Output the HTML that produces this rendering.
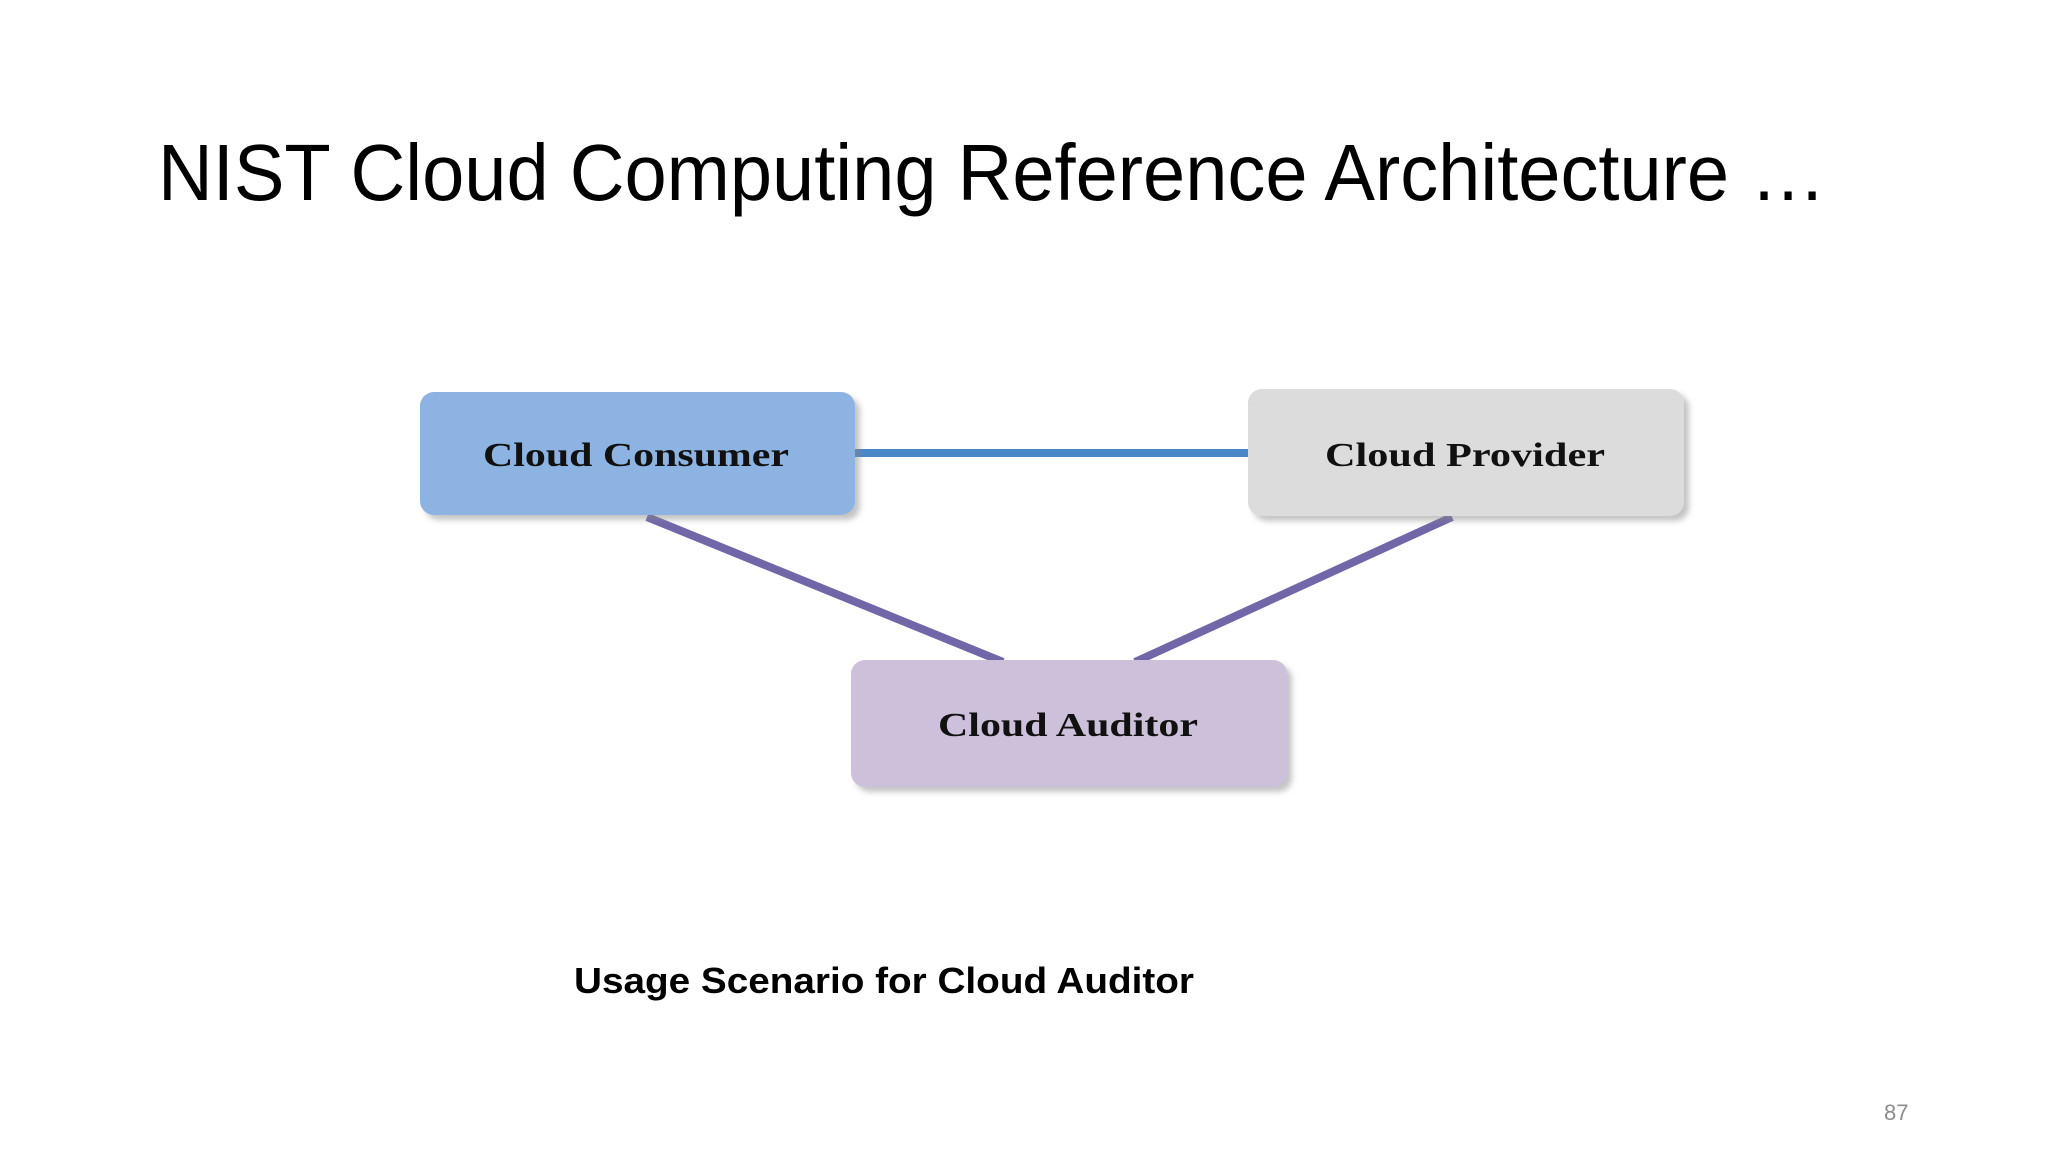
<!DOCTYPE html>
<html><head><meta charset="utf-8"><style>
html,body{margin:0;padding:0;background:#fff;}
svg{display:block}
</style></head><body>
<svg width="2048" height="1152" viewBox="0 0 2048 1152" xmlns="http://www.w3.org/2000/svg">
<defs>
<filter id="sh" x="-10%" y="-10%" width="130%" height="140%">
<feDropShadow dx="5" dy="5" stdDeviation="3" flood-color="#888" flood-opacity="0.5"/>
</filter>
</defs>
<text x="158" y="200" font-family="Liberation Sans, sans-serif" font-size="80" fill="#000" textLength="1668" lengthAdjust="spacingAndGlyphs">NIST Cloud Computing Reference Architecture …</text>
<line x1="850" y1="453" x2="1252" y2="453" stroke="#4a86c5" stroke-width="8"/>
<line x1="647" y1="517" x2="1003" y2="662" stroke="#7066a8" stroke-width="8"/>
<line x1="1452" y1="517" x2="1135" y2="662" stroke="#7066a8" stroke-width="8"/>
<rect x="420" y="392" width="435" height="123" rx="14" fill="#8db3e2" filter="url(#sh)"/>
<rect x="1248" y="389" width="436" height="127" rx="14" fill="#dcdcdc" filter="url(#sh)"/>
<rect x="851" y="660" width="436" height="127" rx="14" fill="#ccc0da" filter="url(#sh)"/>
<text x="483" y="466" font-family="Liberation Serif, serif" font-weight="bold" font-size="34" fill="#111" textLength="306" lengthAdjust="spacingAndGlyphs">Cloud Consumer</text>
<text x="1325" y="466" font-family="Liberation Serif, serif" font-weight="bold" font-size="34" fill="#111" textLength="280" lengthAdjust="spacingAndGlyphs">Cloud Provider</text>
<text x="938" y="736" font-family="Liberation Serif, serif" font-weight="bold" font-size="34" fill="#111" textLength="260" lengthAdjust="spacingAndGlyphs">Cloud Auditor</text>
<text x="574" y="993" font-family="Liberation Sans, sans-serif" font-weight="bold" font-size="36" fill="#000" textLength="620" lengthAdjust="spacingAndGlyphs">Usage Scenario for Cloud Auditor</text>
<text x="1884" y="1120" font-family="Liberation Sans, sans-serif" font-size="22" fill="#8c8c8c">87</text>
</svg>
</body></html>
